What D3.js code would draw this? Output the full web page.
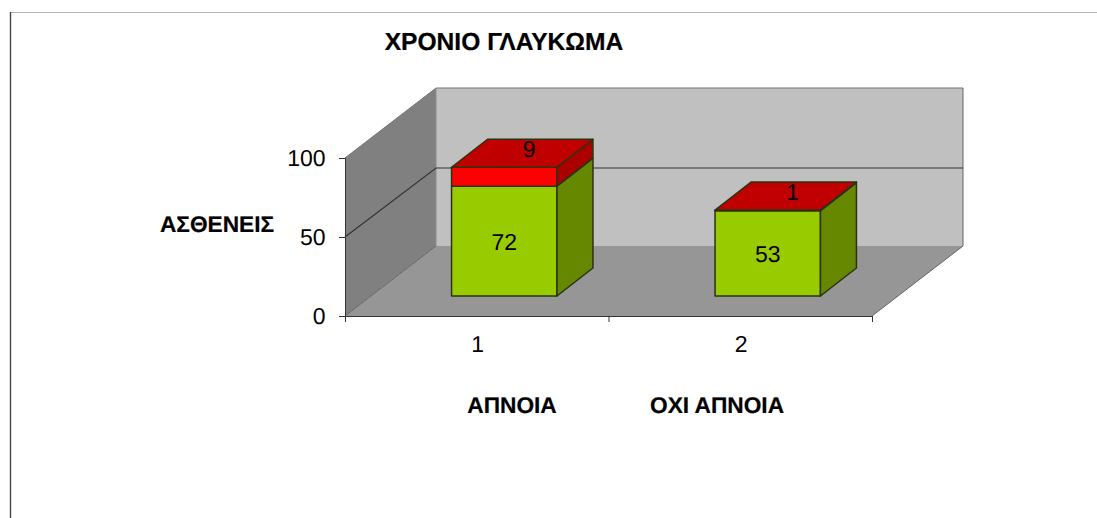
<!DOCTYPE html>
<html>
<head>
    <meta charset="utf-8">
    <title>ΧΡΟΝΙΟ ΓΛΑΥΚΩΜΑ</title>
    <script src="https://cdn.jsdelivr.net/npm/d3@7"></script>
    <style>
        html, body { margin: 0; padding: 0; background: #fff; }
        svg { display: block; }
        text { font-family: "Liberation Sans", Arial, sans-serif; fill: #000; text-rendering: geometricPrecision; }
        .axis path, .axis line { stroke: #333; }
        .lbl { font-size: 23px; text-anchor: middle; }
        .ttl { font-size: 22.7px; font-weight: bold; text-anchor: middle; stroke: #000; stroke-width: 0.2; }
        .bar { stroke: #2a3310; stroke-width: 1.5; stroke-linejoin: round; }
    </style>
</head>
<body>
<div id="vis"></div>

<script>
    var categories = ["1", "2"];
    var groupNames = ["ΑΠΝΟΙΑ", "ΟΧΙ ΑΠΝΟΙΑ"];
    var yTicks = [0, 50, 100];

    // printed on the bars
    var greenLabels = [72, 53];
    var redLabels = [9, 1];
    // heights as actually (they differ a bit from the printed numbers)
    var greenHeights = [69.5, 54];
    var redHeights = [12, 0.4];

    var width = 1097, height = 518;

    var svg = d3.select("#vis").append("svg")
        .attr("width", width)
        .attr("height", height);

    // page frame
    svg.append("line").attr("x1", 10).attr("x2", width).attr("y1", 12.5).attr("y2", 12.5)
        .style("stroke", "#b4b4b4").style("stroke-width", 1.2);
    svg.append("line").attr("x1", 10.5).attr("x2", 10.5).attr("y1", 12).attr("y2", height)
        .style("stroke", "#444").style("stroke-width", 1.4);

    var y = d3.scaleLinear().domain([0, 100]).range([316, 158]);
    var xEdge = d3.scaleLinear().domain([0, 2]).range([345, 872]);
    var x = d3.scaleBand().domain(categories).range([345, 872]).paddingInner(0.6).paddingOuter(0.3);

    // depth of the 3d box and of the bars in it
    var depth = {dx: 91, dy: -70};
    var barOffset = {dx: 27.5, dy: -20};
    var barDepth = {dx: 36, dy: -28};

    function pts(list) {
        return list.map(function(p) { return p[0] + "," + p[1]; }).join(" ");
    }

    var x0 = xEdge(0), x1 = xEdge(2), yB = y(0), yT = y(100);

    // walls and floor
    var walls = svg.append("g").attr("class", "walls");
    walls.append("polygon")
        .attr("points", pts([[x0 + depth.dx, yB + depth.dy], [x1 + depth.dx, yB + depth.dy], [x1 + depth.dx, yT + depth.dy], [x0 + depth.dx, yT + depth.dy]]))
        .style("fill", "#c0c0c0");
    walls.append("polygon")
        .attr("points", pts([[x0, yB], [x0 + depth.dx, yB + depth.dy], [x0 + depth.dx, yT + depth.dy], [x0, yT]]))
        .style("fill", "#808080");
    walls.append("polygon")
        .attr("points", pts([[x0, yB], [x1, yB], [x1 + depth.dx, yB + depth.dy], [x0 + depth.dx, yB + depth.dy]]))
        .style("fill", "#969696");

    // edges
    var edgeLines = [
        [[x0, yT], [x0 + depth.dx, yT + depth.dy], [x1 + depth.dx, yT + depth.dy]],
        [[x0 + depth.dx, yT + depth.dy], [x0 + depth.dx, yB + depth.dy]],
        [[x1, yB], [x1 + depth.dx, yB + depth.dy], [x1 + depth.dx, yT + depth.dy]],
        [[x0, yB], [x0 + depth.dx, yB + depth.dy]]
    ];
    walls.selectAll(".edge").data(edgeLines).enter().append("polyline")
        .attr("class", "edge")
        .attr("points", pts)
        .style("fill", "none")
        .style("stroke", function(d, i) { return i == 0 ? "#777" : i == 1 ? "#8c8c8c" : "#666"; })
        .style("stroke-width", 1);

    // the 50 gridline
    walls.append("polyline")
        .attr("points", pts([[x0, y(50)], [x0 + depth.dx, y(50) + depth.dy + 1], [x1 + depth.dx, y(50) + depth.dy + 1]]))
        .style("fill", "none")
        .style("stroke", "#333")
        .style("stroke-width", 1.2);

    // axes
    var yAxis = svg.append("g").attr("class", "axis")
        .attr("transform", "translate(" + x0 + ",0)")
        .call(d3.axisLeft(y).tickValues(yTicks).tickSize(6).tickPadding(13.5).tickFormat(d3.format("d")));
    yAxis.selectAll("text").style("font-size", "23px").style("font-family", "Liberation Sans");

    svg.append("g").attr("class", "axis")
        .attr("transform", "translate(0," + yB + ")")
        .call(d3.axisBottom(xEdge).tickValues([0, 1, 2]).tickSize(6).tickFormat(""));

    svg.selectAll(".catLabel").data(categories).enter().append("text")
        .attr("class", "lbl catLabel")
        .attr("x", function(d) { return x(d) + x.bandwidth() / 2 + 1; })
        .attr("y", 352)
        .text(function(d) { return d; });

    // bars
    var rows = categories.map(function(c, i) {
        return {cat: c, green: greenHeights[i], red: redHeights[i], gl: greenLabels[i], rl: redLabels[i]};
    });

    var bars = svg.selectAll(".barGroup").data(rows).enter().append("g").attr("class", "barGroup");

    function segment(g, from, to, front, side) {
        g.each(function(d) {
            var sel = d3.select(this);
            var l = x(d.cat) + barOffset.dx, r = l + x.bandwidth();
            var bot = y(from(d)) + barOffset.dy, top = y(to(d)) + barOffset.dy;
            sel.append("polygon").attr("class", "bar")
                .attr("points", pts([[l, bot], [r, bot], [r, top], [l, top]]))
                .style("fill", front);
            sel.append("polygon").attr("class", "bar")
                .attr("points", pts([[r, bot], [r + barDepth.dx, bot + barDepth.dy], [r + barDepth.dx, top + barDepth.dy], [r, top]]))
                .style("fill", side);
        });
    }

    segment(bars, function() { return 0; }, function(d) { return d.green; }, "#99cc00", "#668800");
    segment(bars, function(d) { return d.green; }, function(d) { return d.green + d.red; }, "#ff0000", "#aa0000");

    // red top face
    bars.append("polygon").attr("class", "bar")
        .attr("points", function(d) {
            var l = x(d.cat) + barOffset.dx, r = l + x.bandwidth();
            var top = y(d.green + d.red) + barOffset.dy;
            return pts([[l, top], [r, top], [r + barDepth.dx, top + barDepth.dy], [l + barDepth.dx, top + barDepth.dy]]);
        })
        .style("fill", "#c00000");

    // value labels
    bars.append("text").attr("class", "lbl")
        .attr("x", function(d) { return x(d.cat) + barOffset.dx + x.bandwidth() / 2; })
        .attr("y", function(d) { return (y(0) + y(d.green)) / 2 + barOffset.dy + 9; })
        .text(function(d) { return d.gl; });

    bars.append("text").attr("class", "lbl")
        .attr("x", function(d) { return x(d.cat) + barOffset.dx + x.bandwidth() / 2 + 25; })
        .attr("y", function(d) { return y(d.green + d.red) + barOffset.dy - 10; })
        .text(function(d) { return d.rl; });

    // titles
    svg.append("text").attr("class", "ttl").attr("x", 504).attr("y", 50)
        .style("font-size", "24.6px").text("ΧΡΟΝΙΟ ΓΛΑΥΚΩΜΑ");
    svg.append("text").attr("class", "ttl").attr("x", 217).attr("y", 232).text("ΑΣΘΕΝΕΙΣ");
    svg.selectAll(".groupName").data(groupNames).enter().append("text")
        .attr("class", "ttl groupName")
        .attr("x", function(d, i) { return [512, 717][i]; })
        .attr("y", 413)
        .text(function(d) { return d; });
</script>

</body>
</html>
